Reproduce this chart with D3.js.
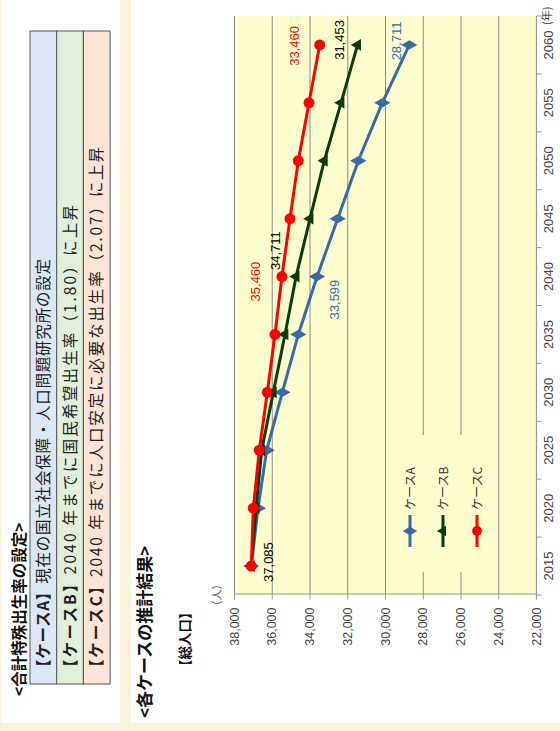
<!DOCTYPE html>
<html>
<head>
<meta charset="utf-8">
<script src="https://cdn.jsdelivr.net/npm/d3@7"></script>
<style>
  html, body { margin: 0; padding: 0; background: #fdf3dc; }
  svg { display: block; }
</style>
</head>
<body>
<svg id="page" width="560" height="731"></svg>
<script>
// ---- data ----
const years = ["2015", "2020", "2025", "2030", "2035", "2040", "2045", "2050", "2055", "2060"];
const caseA = [37085, 36728, 36268, 35440, 34593, 33599, 32506, 31414, 30143, 28711];
const caseB = [37085, 36834, 36533, 35917, 35298, 34711, 33973, 33216, 32331, 31453];
const caseC = [37085, 36977, 36660, 36236, 35828, 35460, 35033, 34593, 34026, 33460];
const valueTicks = [22000, 24000, 26000, 28000, 30000, 32000, 34000, 36000, 38000];
const seriesNames = ["ケースA", "ケースB", "ケースC"];
const settingLabels = ["【ケースA】", "【ケースB】", "【ケースC】"];
const settingTexts = [
  "現在の国立社会保障・人口問題研究所の設定",
  "2040 年までに国民希望出生率（1.80）に上昇",
  "2040 年までに人口安定に必要な出生率（2.07）に上昇"
];
// value labels: [series index, year index]
const labelPoints = [[1, 0], [2, 5], [1, 5], [0, 5], [2, 9], [1, 9], [0, 9]];

// ---- layout (page is laid out landscape, then turned) ----
const W = 731, H = 560;
const JP = "'Noto Sans CJK JP', 'Noto Sans', sans-serif";
const NUM = "'Liberation Sans', Arial, sans-serif";

const svg = d3.select("#page");
const g = svg.append("g").attr("transform", `translate(0,${W}) rotate(-90)`);

// page panels
g.append("rect").attr("x", 0).attr("y", 0).attr("width", W).attr("height", H).attr("fill", "#fdf3dc");
g.append("rect").attr("x", 8).attr("y", 1).attr("width", W - 8).attr("height", 119).attr("fill", "#ffffff");
g.append("rect").attr("x", 8).attr("y", 131).attr("width", W - 8).attr("height", H - 131).attr("fill", "#ffffff");

// ---- settings table ----
g.append("text").attr("x", 35).attr("y", 25)
  .attr("font-family", JP).attr("font-size", 15.5).attr("font-weight", "bold").attr("fill", "#111")
  .text("<合計特殊出生率の設定>");

const rowFills = ["#dce6f4", "#e2efda", "#fce4d6"];
const rowTextLength = [416, 470, 528];
const tX0 = 47, tX1 = 700, tY0 = 30, rowH = 26.7;
settingTexts.forEach((t, i) => {
  g.append("rect").attr("x", tX0).attr("y", tY0 + i * rowH).attr("width", tX1 - tX0).attr("height", rowH)
    .attr("fill", rowFills[i]).attr("stroke", "#555").attr("stroke-width", 1);
  const tx = g.append("text").attr("x", 56).attr("y", tY0 + i * rowH + rowH / 2 + 5.5)
    .attr("font-family", JP).attr("font-size", 15.5).attr("fill", "#222")
    .attr("textLength", rowTextLength[i]).attr("lengthAdjust", "spacing");
  tx.append("tspan").attr("font-weight", "bold").text(settingLabels[i]);
  tx.append("tspan").text(t);
});

// ---- results heading ----
g.append("text").attr("x", 13).attr("y", 151)
  .attr("font-family", JP).attr("font-size", 17).attr("font-weight", "bold").attr("fill", "#111")
  .text("<各ケースの推計結果>");
g.append("text").attr("x", 58).attr("y", 190)
  .attr("font-family", JP).attr("font-size", 13.5).attr("font-weight", "bold").attr("fill", "#111")
  .text("【総人口】");

// ---- chart ----
const plot = { left: 136, right: 715, top: 234, bottom: 536 };
const x = d3.scaleBand().domain(years).range([plot.left, plot.right]).paddingInner(0).paddingOuter(0);
const y = d3.scaleLinear().domain([22000, 38000]).range([plot.bottom, plot.top]);
const cx = d => x(d) + x.bandwidth() / 2;

g.append("rect").attr("x", plot.left).attr("y", plot.top)
  .attr("width", plot.right - plot.left).attr("height", plot.bottom - plot.top).attr("fill", "#fefdcd");

// gridlines
g.append("g").selectAll("line").data(valueTicks.filter(v => v !== 22000)).join("line")
  .attr("x1", plot.left).attr("x2", plot.right)
  .attr("y1", d => y(d) + 0.5).attr("y2", d => y(d) + 0.5)
  .attr("stroke", "#8a8a8a").attr("stroke-width", 1);

// legend box (covers the grid behind it)
const legend = { x0: 159, x1: 296, y0: 393, y1: 492 };
g.append("rect").attr("x", legend.x0).attr("y", legend.y0)
  .attr("width", legend.x1 - legend.x0).attr("height", legend.y1 - legend.y0).attr("fill", "#fefdcd");

// value axis
const yAxis = d3.axisLeft(y).tickValues(valueTicks).tickSize(5).tickPadding(8).tickFormat(d3.format(","));
const ya = g.append("g").attr("transform", `translate(${plot.left + 0.5},0)`).call(yAxis);
ya.select(".domain").attr("stroke", "#999").attr("stroke-width", 1.2);
ya.selectAll(".tick line").attr("stroke", "#999");
ya.selectAll(".tick text").attr("font-family", NUM).attr("font-size", 12.5).attr("fill", "#444");

// category axis: ticks sit on band boundaries, labels in the middle
const xa = g.append("g").attr("transform", `translate(0,${plot.bottom + 0.5})`);
xa.append("line").attr("x1", plot.left).attr("x2", plot.right).attr("stroke", "#999").attr("stroke-width", 1.2);
const bounds = years.map(d => x(d)).concat([plot.right]);
xa.selectAll("line.tk").data(bounds).join("line").attr("class", "tk")
  .attr("x1", d => d).attr("x2", d => d).attr("y1", 0).attr("y2", 5).attr("stroke", "#999");
xa.selectAll("text").data(years).join("text")
  .attr("x", d => cx(d)).attr("y", 16).attr("text-anchor", "middle")
  .attr("font-family", NUM).attr("font-size", 13).attr("fill", "#444").text(d => d);

// unit captions
g.append("text").attr("x", plot.left).attr("y", 221).attr("text-anchor", "middle")
  .attr("font-family", JP).attr("font-size", 11).attr("fill", "#555").text("（人）");
g.append("text").attr("x", 706).attr("y", 551)
  .attr("font-family", JP).attr("font-size", 11).attr("fill", "#555").text("(年)");

// series
const colors = ["#386aa8", "#0b3a0b", "#ff0000"];
const seriesData = [caseA, caseB, caseC];
const line = d3.line().x((d, i) => cx(years[i])).y(d => y(d));
const markers = [d3.symbolDiamond, d3.symbolTriangle, d3.symbolCircle];
const markerSize = [75, 60, 95];

seriesData.forEach((vals, s) => {
  g.append("path").datum(vals).attr("d", line)
    .attr("fill", "none").attr("stroke", colors[s]).attr("stroke-width", 3).attr("stroke-linejoin", "round");
  g.append("g").selectAll("path").data(vals).join("path")
    .attr("d", d3.symbol().type(markers[s]).size(markerSize[s]))
    .attr("transform", (d, i) => `translate(${cx(years[i])},${y(d)})`)
    .attr("fill", colors[s]);
});

// value labels
const labelColors = ["#386aa8", "#000000", "#ff0000"];
const labelOffsets = [[4, 21.5], [-5, -21.5], [26, -16.5], [-23, 21.5], [-1, -20.5], [5, -13.5], [4, -8.5]];
labelPoints.forEach(([s, i], k) => {
  const v = seriesData[s][i];
  g.append("text")
    .attr("x", cx(years[i]) + labelOffsets[k][0]).attr("y", y(v) + labelOffsets[k][1])
    .attr("text-anchor", "middle").attr("font-family", NUM).attr("font-size", 13)
    .attr("fill", labelColors[s]).text(d3.format(",")(v));
});

// legend entries
const legendY = [410, 443, 477];
seriesNames.forEach((name, s) => {
  const ly = legendY[s];
  g.append("line").attr("x1", 184).attr("x2", 216).attr("y1", ly).attr("y2", ly)
    .attr("stroke", colors[s]).attr("stroke-width", 3);
  g.append("path").attr("d", d3.symbol().type(markers[s]).size(markerSize[s] * 0.8)())
    .attr("transform", `translate(200,${ly})`).attr("fill", colors[s]);
  g.append("text").attr("x", 221).attr("y", ly + 4.5)
    .attr("font-family", JP).attr("font-size", 12).attr("fill", "#333").text(name);
});
</script>
</body>
</html>
